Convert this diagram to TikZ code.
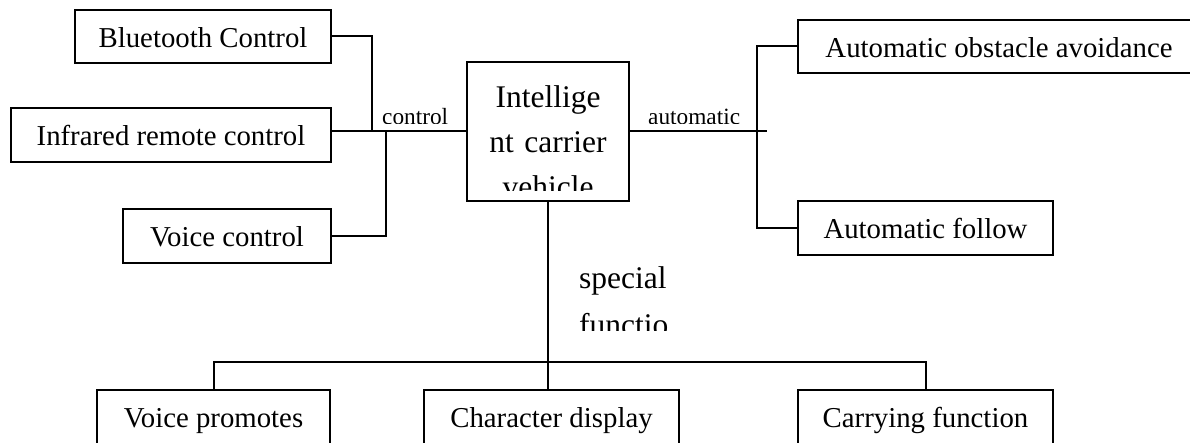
\documentclass[tikz,border=0pt]{standalone}
\usepackage{fontspec}
\setmainfont{Liberation Serif}
\begin{document}
\begin{tikzpicture}[x=1pt,y=-1pt,
  box/.style={draw,line width=1.8pt,inner sep=0pt,font=\fontsize{28.8}{34}\selectfont,text height=22pt,text depth=0pt},
  lowbox/.style={box,text height=19pt},
  conn/.style={draw,line width=2pt},
  lbl/.style={inner sep=0pt,font=\fontsize{23.3}{28}\selectfont,anchor=base west},
  big/.style={inner sep=0pt,font=\fontsize{31.5}{45}\selectfont}]
\useasboundingbox (0,0) rectangle (1190,443);
\clip (0,0) rectangle (1190,443);
% boxes
\node[box,minimum width=256pt,minimum height=53pt] (bt) at (203,36.5) {Bluetooth Control};
\node[box,minimum width=320pt,minimum height=54pt] (ir) at (171,135) {Infrared remote control};
\node[box,minimum width=208pt,minimum height=54pt] (vc) at (227,236) {Voice control};
\node[box,minimum width=162pt,minimum height=139pt] (cv) at (548,131.5) {};
\node[box,minimum width=402pt,minimum height=53pt] (oa) at (999,46.5) {Automatic obstacle avoidance};
\node[box,minimum width=255pt,minimum height=54pt] (af) at (925.5,228) {Automatic follow};
\node[lowbox,minimum width=233pt,minimum height=56pt] (vp) at (213.5,418) {Voice promotes};
\node[lowbox,minimum width=255pt,minimum height=56pt] (cd) at (551.5,418) {Character display};
\node[lowbox,minimum width=255pt,minimum height=56pt] (cf) at (925.5,418) {Carrying function};
% junctions
\coordinate (jb) at (372,132);
\coordinate (jv) at (386,132);
\coordinate (ja) at (757,131.5);
\coordinate (je) at (767,131.5);
\coordinate (jr) at (925.5,362);
% connectors
\draw[conn] (bt.east) -| (jb);
\draw[conn] (ir.east |- cv.west) -- (cv.west);
\draw[conn] (vc.east) -| (jv);
\draw[conn] (cv.east) -- (je);
\draw[conn] (oa.west) -| (ja) |- (af.west);
\draw[conn] (cv.south) -- (cv.south |- cd.north);
\draw[conn] (vp.north) |- (jr) -- (cf.north);
% labels
\begin{scope}
\clip (370,90) rectangle (460,123.5);
\node[lbl] (lc) at (382,125) {control};
\end{scope}
\begin{scope}
\clip (640,90) rectangle (750,123.5);
\node[lbl] (la) at (648,125) {automatic};
\end{scope}
\begin{scope}
\clip (467,62) rectangle (629,190.5);
\node[big,anchor=base,text width=160pt,align=center] (cvt) at (548,108) {Intellige\\nt carrier\\vehicle};
\end{scope}
\begin{scope}
\clip (570,250) rectangle (720,330);
\node[big,anchor=base west,text width=130pt,align=left,font=\fontsize{31.5}{47}\selectfont] (sf) at (579,289) {special\\functio};
\end{scope}
\end{tikzpicture}
\end{document}
